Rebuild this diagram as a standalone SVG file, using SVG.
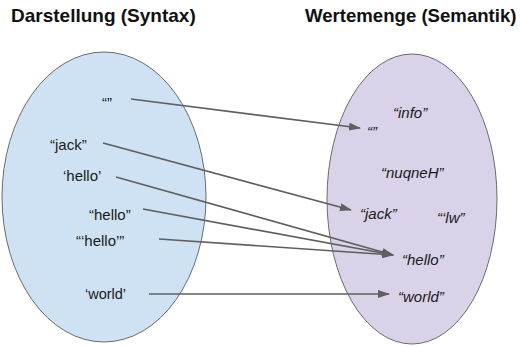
<svg xmlns="http://www.w3.org/2000/svg" width="520" height="346" viewBox="0 0 520 346">
<style>
.t{font-family:"Liberation Sans",Arial,sans-serif;font-size:15px;fill:#1a1a1a}
.i{font-style:italic}
.h{font-family:"Liberation Sans",Arial,sans-serif;font-size:18.6px;font-weight:bold;fill:#111}
.c{stroke:#5f5f5f;stroke-width:1.7;fill:none;marker-end:url(#ah)}
</style>
<defs>
<marker id="ah" markerUnits="userSpaceOnUse" markerWidth="12" markerHeight="8" refX="11" refY="4" orient="auto">
<path d="M0,0 L12,4 L0,8 z" fill="#5f5f5f"/>
</marker>
</defs>
<rect width="520" height="346" fill="#fff"/>
<text class="h" x="11" y="22" style="font-size:19px">Darstellung (Syntax)</text>
<text class="h" x="305" y="22">Wertemenge (Semantik)</text>
<g id="syntax">
<ellipse cx="104" cy="197" rx="102" ry="145" fill="#cfe2f3" stroke="#6b6b6b" stroke-width="1"/>
<text class="t" x="102" y="108">“”</text>
<text class="t" x="50" y="150">“jack”</text>
<text class="t" x="63" y="181">‘hello’</text>
<text class="t" x="89" y="219.5">“hello”</text>
<text class="t" x="76" y="246">“‘hello’”</text>
<text class="t" x="85" y="299" style="font-size:14.5px">‘world’</text>
</g>
<g id="semantik">
<ellipse cx="412" cy="199" rx="85" ry="145" fill="#d9d2e9" stroke="#6b6b6b" stroke-width="1"/>
<text class="t i" x="393" y="118">“info”</text>
<text class="t i" x="367" y="137">“”</text>
<text class="t i" x="381" y="178">“nuqneH”</text>
<text class="t i" x="360" y="219">“jack”</text>
<text class="t i" x="437" y="223">“‘lw”</text>
<text class="t i" x="402" y="265">“hello”</text>
<text class="t i" x="398" y="302">“world”</text>
</g>
<g id="connectors">
<line class="c" x1="131" y1="99" x2="360" y2="128"/>
<line class="c" x1="103" y1="143" x2="351" y2="210"/>
<line class="c" x1="116" y1="177" x2="393" y2="255"/>
<line class="c" x1="143" y1="209" x2="393" y2="255"/>
<line class="c" x1="159" y1="239" x2="393" y2="255"/>
<line class="c" x1="149" y1="294" x2="389" y2="294"/>
</g>
</svg>
